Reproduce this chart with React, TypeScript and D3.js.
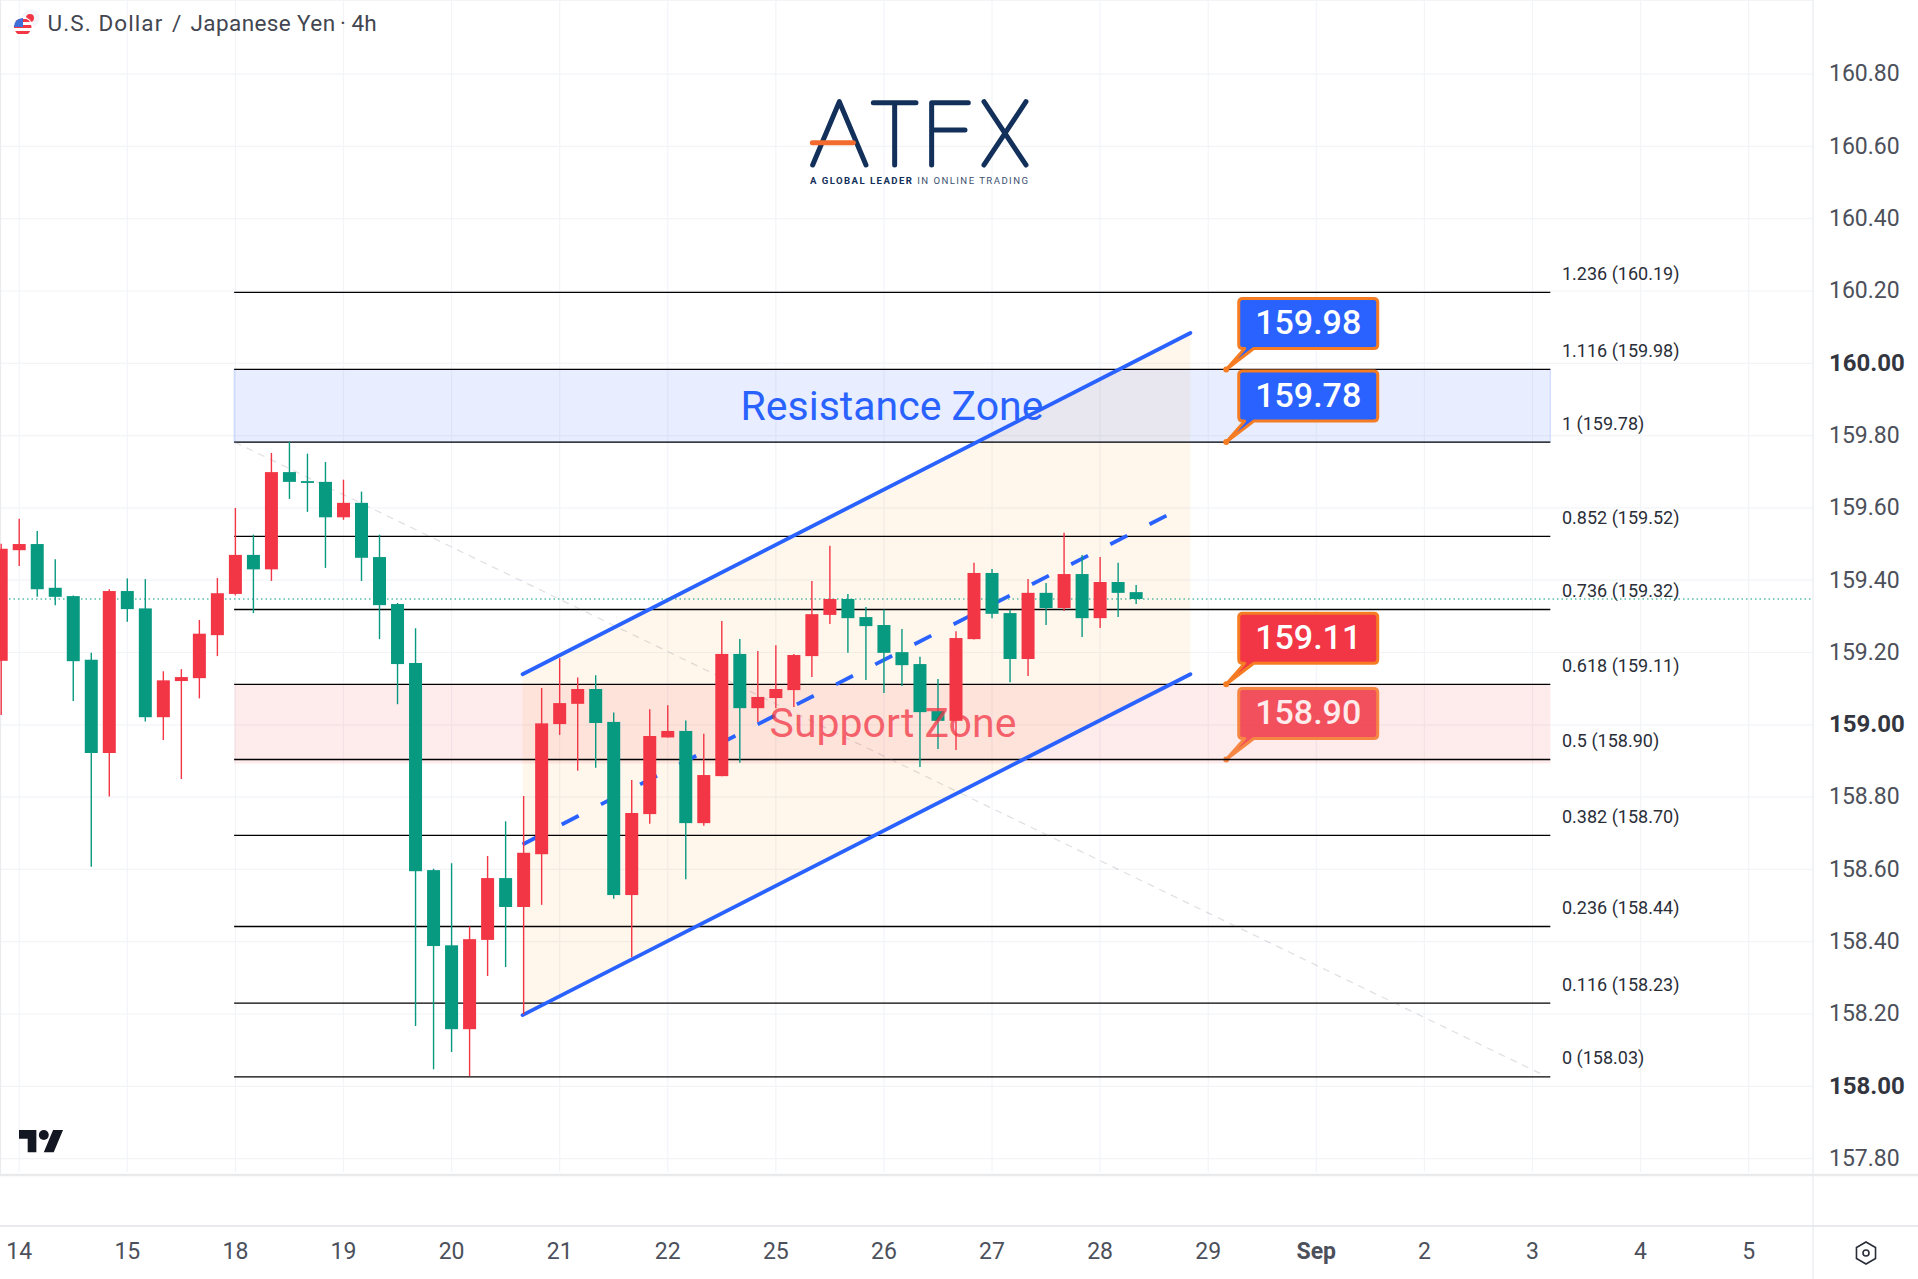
import { useEffect, useRef } from 'react';
import * as d3 from 'd3';

const WIDTH = 1918;
const HEIGHT = 1279;

// 4h candles (red closes up, green closes down)
const opens = [159.177, 159.483, 159.5, 159.379, 159.356, 159.18, 158.922, 159.37, 159.322, 159.021, 159.121, 159.129, 159.248, 159.362, 159.47, 159.43, 159.699, 159.674, 159.672, 159.574, 159.614, 159.464, 159.334, 159.171, 158.598, 158.39, 158.158, 158.405, 158.576, 158.496, 158.642, 159.002, 159.058, 159.099, 159.008, 158.529, 158.753, 158.965, 158.983, 158.728, 158.858, 159.196, 159.046, 159.074, 159.096, 159.19, 159.304, 159.348, 159.298, 159.276, 159.201, 159.168, 159.038, 159.011, 159.237, 159.42, 159.309, 159.182, 159.365, 159.323, 159.417, 159.295, 159.395, 159.367];
const highs = [159.501, 159.57, 159.536, 159.458, 159.358, 159.199, 159.375, 159.405, 159.403, 159.148, 159.154, 159.29, 159.406, 159.6, 159.526, 159.752, 159.783, 159.75, 159.727, 159.678, 159.645, 159.526, 159.337, 159.267, 158.602, 158.617, 158.442, 158.637, 158.733, 158.803, 159.102, 159.184, 159.131, 159.137, 159.034, 158.847, 159.043, 159.054, 159.012, 158.975, 159.287, 159.237, 159.204, 159.22, 159.196, 159.398, 159.495, 159.362, 159.326, 159.319, 159.265, 159.188, 159.127, 159.259, 159.448, 159.431, 159.318, 159.403, 159.392, 159.531, 159.47, 159.464, 159.448, 159.387];
const lows = [159.027, 159.439, 159.354, 159.331, 159.066, 158.607, 158.802, 159.285, 159.009, 158.958, 158.85, 159.073, 159.19, 159.358, 159.309, 159.398, 159.625, 159.589, 159.434, 159.567, 159.398, 159.237, 159.057, 158.167, 158.047, 158.095, 158.028, 158.305, 158.33, 158.199, 158.502, 158.972, 158.873, 158.881, 158.519, 158.357, 158.726, 158.965, 158.573, 158.721, 158.858, 158.895, 159.008, 159.046, 159.049, 159.132, 159.279, 159.199, 159.124, 159.088, 159.107, 158.883, 158.933, 158.93, 159.236, 159.295, 159.118, 159.135, 159.276, 159.315, 159.243, 159.268, 159.298, 159.334];
const closes = [159.487, 159.5, 159.375, 159.354, 159.176, 158.922, 159.37, 159.32, 159.021, 159.123, 159.132, 159.252, 159.364, 159.47, 159.43, 159.699, 159.672, 159.669, 159.574, 159.614, 159.462, 159.331, 159.168, 158.595, 158.388, 158.158, 158.407, 158.576, 158.496, 158.646, 159.004, 159.06, 159.099, 159.005, 158.529, 158.756, 158.969, 158.983, 158.728, 158.861, 159.196, 159.046, 159.077, 159.099, 159.193, 159.306, 159.348, 159.295, 159.273, 159.199, 159.165, 159.035, 159.011, 159.24, 159.42, 159.307, 159.182, 159.365, 159.323, 159.417, 159.295, 159.395, 159.365, 159.348];

const priceTicks = [160.8, 160.6, 160.4, 160.2, 160.0, 159.8, 159.6, 159.4, 159.2, 159.0, 158.8, 158.6, 158.4, 158.2, 158.0, 157.8];
const boldTicks = [160.0, 159.0, 158.0];
const dateLabels = ['14', '15', '18', '19', '20', '21', '22', '25', '26', '27', '28', '29', 'Sep', '2', '3', '4', '5'];
const dateStep = 6; // six 4h bars to a day

const fibPrices = [160.196, 159.983, 159.782, 159.521, 159.319, 159.112, 158.904, 158.694, 158.442, 158.23, 158.026];
const fibLabels = ['1.236 (160.19)', '1.116 (159.98)', '1 (159.78)', '0.852 (159.52)', '0.736 (159.32)', '0.618 (159.11)', '0.5 (158.90)', '0.382 (158.70)', '0.236 (158.44)', '0.116 (158.23)', '0 (158.03)'];
const fibSpan = [12.93, 85.99];

const channelSpan = [28.94, 66.01];
const channelUpper = [159.14, 160.084];
const channelLower = [158.197, 159.14];
const channelMidSpan = [28.94, 64.73];
const channelMid = [158.669, 159.58];
const trendSpan = [12.96, 85.82];
const trendPrices = [159.782, 158.026];

const calloutPrices = [159.983, 159.782, 159.112, 158.904];
const calloutTexts = ['159.98', '159.78', '159.11', '158.90'];
const calloutColors = ['#2962ff', '#2962ff', '#f23645', '#f23645'];
const calloutBar = 68.0;

const RED = '#f23645';
const GREEN = '#089981';
const BLUE = '#2962ff';
const ORANGE = '#f57c23';
const GRID = '#f2f4f8';
const FONT = 'Roboto, sans-serif';

const PANE_RIGHT = 1813;
const PANE_BOTTOM = 1175;
const AXIS_TOP = 1226;

export default function App() {
  const svgRef = useRef<SVGSVGElement>(null);

  useEffect(() => {
    if (!svgRef.current) return;
    const svg = d3.select(svgRef.current);
    svg.selectAll('*').remove();

    const x = d3.scaleLinear().domain([0, 1]).range([1.2, 19.215]);
    const y = d3.scaleLinear().domain([160, 158]).range([363.3, 1086.3]);

    // Grid
    const grid = svg.append('g');
    priceTicks.forEach(p => {
      grid.append('line').attr('x1', 0).attr('x2', PANE_RIGHT).attr('y1', y(p)).attr('y2', y(p))
        .attr('stroke', GRID).attr('stroke-width', 1.2);
    });
    dateLabels.forEach((_, i) => {
      const px = x(1 + i * dateStep);
      grid.append('line').attr('x1', px).attr('x2', px).attr('y1', 0).attr('y2', PANE_BOTTOM - 3)
        .attr('stroke', GRID).attr('stroke-width', 1.2);
    });
    grid.append('line').attr('x1', 0).attr('x2', WIDTH).attr('y1', 0.5).attr('y2', 0.5).attr('stroke', GRID).attr('stroke-width', 1.2);
    grid.append('line').attr('x1', 0.5).attr('x2', 0.5).attr('y1', 0).attr('y2', HEIGHT).attr('stroke', '#e9ebef').attr('stroke-width', 1.2);

    // Channel fill
    const channelPts: [number, number][] = [
      [x(channelSpan[0]), y(channelUpper[0])],
      [x(channelSpan[1]), y(channelUpper[1])],
      [x(channelSpan[1]), y(channelLower[1])],
      [x(channelSpan[0]), y(channelLower[0])],
    ];
    svg.append('path')
      .attr('d', `${d3.line()(channelPts)}Z`)
      .attr('fill', 'rgba(255, 152, 0, 0.075)');

    const callout = (i: number, parent: d3.Selection<SVGGElement, unknown, null, undefined>) => {
      const ax = x(calloutBar);
      const ay = y(calloutPrices[i]);
      const l = ax + 12.5;
      const r = ax + 151.5;
      const t = ay - 71;
      const b = ay - 21;
      const rad = 4;
      const d = `M${l + rad},${t}H${r - rad}Q${r},${t} ${r},${t + rad}V${b - rad}Q${r},${b} ${r - rad},${b}`
        + `H${l + 15}L${ax},${ay}L${l + 6},${b}H${l + rad}Q${l},${b} ${l},${b - rad}V${t + rad}Q${l},${t} ${l + rad},${t}Z`;
      parent.append('path').attr('d', d)
        .attr('fill', calloutColors[i])
        .attr('stroke', ORANGE)
        .attr('stroke-width', 3)
        .attr('stroke-linejoin', 'round');
      parent.append('circle').attr('cx', ax).attr('cy', ay).attr('r', 3).attr('fill', ORANGE);
      parent.append('text')
        .attr('x', (l + r) / 2)
        .attr('y', (t + b) / 2 + 10.5)
        .attr('text-anchor', 'middle')
        .attr('fill', '#fff')
        .attr('font-family', FONT)
        .attr('font-size', 34)
        .attr('font-weight', 500)
        .text(calloutTexts[i]);
    };

    // Support zone sits over its own callout, which is why that one looks washed out
    callout(3, svg.append('g').attr('opacity', 0.85));

    svg.append('rect')
      .attr('x', x(fibSpan[0])).attr('width', x(fibSpan[1]) - x(fibSpan[0]))
      .attr('y', y(fibPrices[5])).attr('height', y(fibPrices[6]) - y(fibPrices[5]) + 4)
      .attr('fill', 'rgba(242, 54, 69, 0.1)');
    svg.append('rect')
      .attr('x', x(fibSpan[0])).attr('width', x(fibSpan[1]) - x(fibSpan[0]))
      .attr('y', y(fibPrices[1])).attr('height', y(fibPrices[2]) - y(fibPrices[1]))
      .attr('fill', 'rgba(41, 98, 255, 0.11)')
      .attr('stroke', 'rgba(41, 98, 255, 0.22)');

    // Fib levels
    fibPrices.forEach((p, i) => {
      svg.append('line')
        .attr('x1', x(fibSpan[0])).attr('x2', x(fibSpan[1]))
        .attr('y1', y(p)).attr('y2', y(p))
        .attr('stroke', '#000').attr('stroke-width', 1.3);
      svg.append('text')
        .attr('x', 1562).attr('y', y(p) - 12.5)
        .attr('fill', '#2a2e39')
        .attr('font-family', FONT).attr('font-size', 18)
        .text(fibLabels[i]);
    });

    // Fib trend line
    svg.append('line')
      .attr('x1', x(trendSpan[0])).attr('y1', y(trendPrices[0]))
      .attr('x2', x(trendSpan[1])).attr('y2', y(trendPrices[1]))
      .attr('stroke', 'rgba(120, 123, 134, 0.24)')
      .attr('stroke-width', 1.2)
      .attr('stroke-dasharray', '7 6');

    // Channel lines
    [channelUpper, channelLower].forEach(prices => {
      svg.append('line')
        .attr('x1', x(channelSpan[0])).attr('y1', y(prices[0]))
        .attr('x2', x(channelSpan[1])).attr('y2', y(prices[1]))
        .attr('stroke', BLUE).attr('stroke-width', 3.8).attr('stroke-linecap', 'round');
    });
    svg.append('line')
      .attr('x1', x(channelMidSpan[0])).attr('y1', y(channelMid[0]))
      .attr('x2', x(channelMidSpan[1])).attr('y2', y(channelMid[1]))
      .attr('stroke', BLUE).attr('stroke-width', 3.8)
      .attr('stroke-dasharray', '19 25');

    // Last price
    svg.append('line')
      .attr('x1', 0).attr('x2', PANE_RIGHT)
      .attr('y1', y(closes[closes.length - 1])).attr('y2', y(closes[closes.length - 1]))
      .attr('stroke', GREEN).attr('stroke-width', 1.2).attr('stroke-dasharray', '1.5 3');

    // Candles
    const candles = svg.append('g');
    closes.forEach((c, i) => {
      const o = opens[i];
      const color = c >= o ? RED : GREEN;
      const px = x(i);
      candles.append('line')
        .attr('x1', px).attr('x2', px)
        .attr('y1', y(highs[i])).attr('y2', y(lows[i]))
        .attr('stroke', color).attr('stroke-width', 1.4);
      const top = Math.min(y(o), y(c));
      candles.append('rect')
        .attr('x', px - 6.5).attr('width', 13)
        .attr('y', top).attr('height', Math.max(Math.abs(y(o) - y(c)), 1.5))
        .attr('fill', color);
    });

    // Zone captions
    svg.append('text')
      .attr('x', 892).attr('y', 420)
      .attr('text-anchor', 'middle')
      .attr('fill', BLUE)
      .attr('font-family', FONT).attr('font-size', 41)
      .text('Resistance Zone');
    svg.append('text')
      .attr('x', 893).attr('y', 737)
      .attr('text-anchor', 'middle')
      .attr('fill', RED).attr('fill-opacity', 0.75)
      .attr('font-family', FONT).attr('font-size', 41)
      .text('Support Zone');

    [0, 1, 2].forEach(i => callout(i, svg.append('g')));

    // Axes
    svg.append('rect').attr('x', PANE_RIGHT).attr('width', WIDTH - PANE_RIGHT).attr('y', 0).attr('height', HEIGHT).attr('fill', '#fff');
    svg.append('rect').attr('x', 0).attr('width', WIDTH).attr('y', PANE_BOTTOM).attr('height', HEIGHT - PANE_BOTTOM).attr('fill', '#fff');
    svg.append('line').attr('x1', PANE_RIGHT).attr('x2', PANE_RIGHT).attr('y1', 0).attr('y2', HEIGHT).attr('stroke', '#e8eaef').attr('stroke-width', 1.2);
    svg.append('line').attr('x1', 0).attr('x2', WIDTH).attr('y1', PANE_BOTTOM).attr('y2', PANE_BOTTOM).attr('stroke', '#e9eaec').attr('stroke-width', 2.4);
    svg.append('line').attr('x1', 0).attr('x2', WIDTH).attr('y1', AXIS_TOP).attr('y2', AXIS_TOP).attr('stroke', '#e0e3eb').attr('stroke-width', 1.6);

    priceTicks.forEach(p => {
      const bold = boldTicks.includes(p);
      svg.append('text')
        .attr('x', 1829).attr('y', y(p) + 7.3)
        .attr('fill', bold ? '#333640' : '#4c505b')
        .attr('font-family', FONT)
        .attr('font-size', bold ? 24 : 23)
        .attr('font-weight', bold ? 700 : 400)
        .text(p.toFixed(2));
    });
    dateLabels.forEach((label, i) => {
      svg.append('text')
        .attr('x', x(1 + i * dateStep)).attr('y', 1259)
        .attr('text-anchor', 'middle')
        .attr('fill', '#4c505b')
        .attr('font-family', FONT).attr('font-size', 23)
        .attr('font-weight', label === 'Sep' ? 700 : 400)
        .text(label);
    });

    // Settings glyph
    const hex = d3.range(6).map(k => {
      const a = Math.PI / 6 + (k * Math.PI) / 3;
      return [1866 + Math.cos(a) * 11, 1253 + Math.sin(a) * 11] as [number, number];
    });
    svg.append('path').attr('d', `${d3.line()(hex)}Z`).attr('fill', 'none').attr('stroke', '#2a2e39').attr('stroke-width', 1.6);
    svg.append('circle').attr('cx', 1866).attr('cy', 1253).attr('r', 3).attr('fill', 'none').attr('stroke', '#2a2e39').attr('stroke-width', 1.6);

    // Title with flag pair
    const defs = svg.append('defs');
    defs.append('clipPath').attr('id', 'usd-flag').append('circle').attr('cx', 22.7).attr('cy', 26.7).attr('r', 8.8);
    svg.append('circle').attr('cx', 31).attr('cy', 18).attr('r', 8.8).attr('fill', '#f4f5fb');
    svg.append('circle').attr('cx', 30).attr('cy', 18).attr('r', 4).attr('fill', RED);
    svg.append('circle').attr('cx', 22.7).attr('cy', 26.7).attr('r', 10).attr('fill', '#fff');
    const flag = svg.append('g').attr('clip-path', 'url(#usd-flag)');
    flag.append('rect').attr('x', 13).attr('y', 17).attr('width', 20).attr('height', 20).attr('fill', '#fff');
    d3.range(3).forEach(k => {
      flag.append('rect').attr('x', 13).attr('y', 19 + k * 6).attr('width', 20).attr('height', 3).attr('fill', RED);
    });
    flag.append('rect').attr('x', 13).attr('y', 17).attr('width', 10).attr('height', 10).attr('fill', '#3f6fd8');

    const title = svg.append('text')
      .attr('y', 30.5)
      .attr('fill', '#434651')
      .attr('font-family', FONT).attr('font-size', 22.5);
    title.append('tspan').attr('x', 47.5).attr('letter-spacing', 1.1).text('U.S. Dollar');
    title.append('tspan').attr('x', 172).text('/');
    title.append('tspan').attr('x', 190.5).attr('letter-spacing', 0.4).text('Japanese Yen');
    title.append('tspan').attr('x', 340).text('·');
    title.append('tspan').attr('x', 351.5).text('4h');

    // TradingView mark
    const tv = svg.append('g').attr('transform', 'translate(19, 1125) scale(1.24)').attr('fill', '#131722');
    tv.append('path').attr('d', 'M14 22H7V11H0V4h14v18zM28 22h-8l7.5-18h8L28 22z');
    tv.append('circle').attr('cx', 20).attr('cy', 8).attr('r', 4);

    // ATFX logo
    const logo = svg.append('g').attr('transform', 'translate(780, 80) scale(0.3333)')
      .attr('fill', 'none').attr('stroke', '#12305a').attr('stroke-width', 15).attr('stroke-linecap', 'round').attr('stroke-linejoin', 'round');
    logo.append('path').attr('d', 'M98 255L178 65L258 255');
    logo.append('path').attr('d', 'M280 68H408M344 68V255');
    logo.append('path').attr('d', 'M565 68H455V255M455 150H555');
    logo.append('path').attr('d', 'M612 65L738 255M738 65L612 255');
    logo.append('path').attr('d', 'M97 188H220').attr('stroke', '#f26a2e');
    const tagline = svg.append('text')
      .attr('x', 810).attr('y', 183.5)
      .attr('fill', '#3c5170')
      .attr('font-family', FONT).attr('font-size', 9.6)
      .attr('textLength', 218)
      .attr('lengthAdjust', 'spacing');
    tagline.append('tspan').attr('font-weight', 700).attr('fill', '#12305a').text('A GLOBAL LEADER ');
    tagline.append('tspan').text('IN ONLINE TRADING');
  }, []);

  return (
    <svg
      ref={svgRef}
      width={WIDTH}
      height={HEIGHT}
      viewBox={`0 0 ${WIDTH} ${HEIGHT}`}
      style={{ position: 'absolute', top: 0, left: 0, display: 'block', background: '#fff' }}
    />
  );
}
